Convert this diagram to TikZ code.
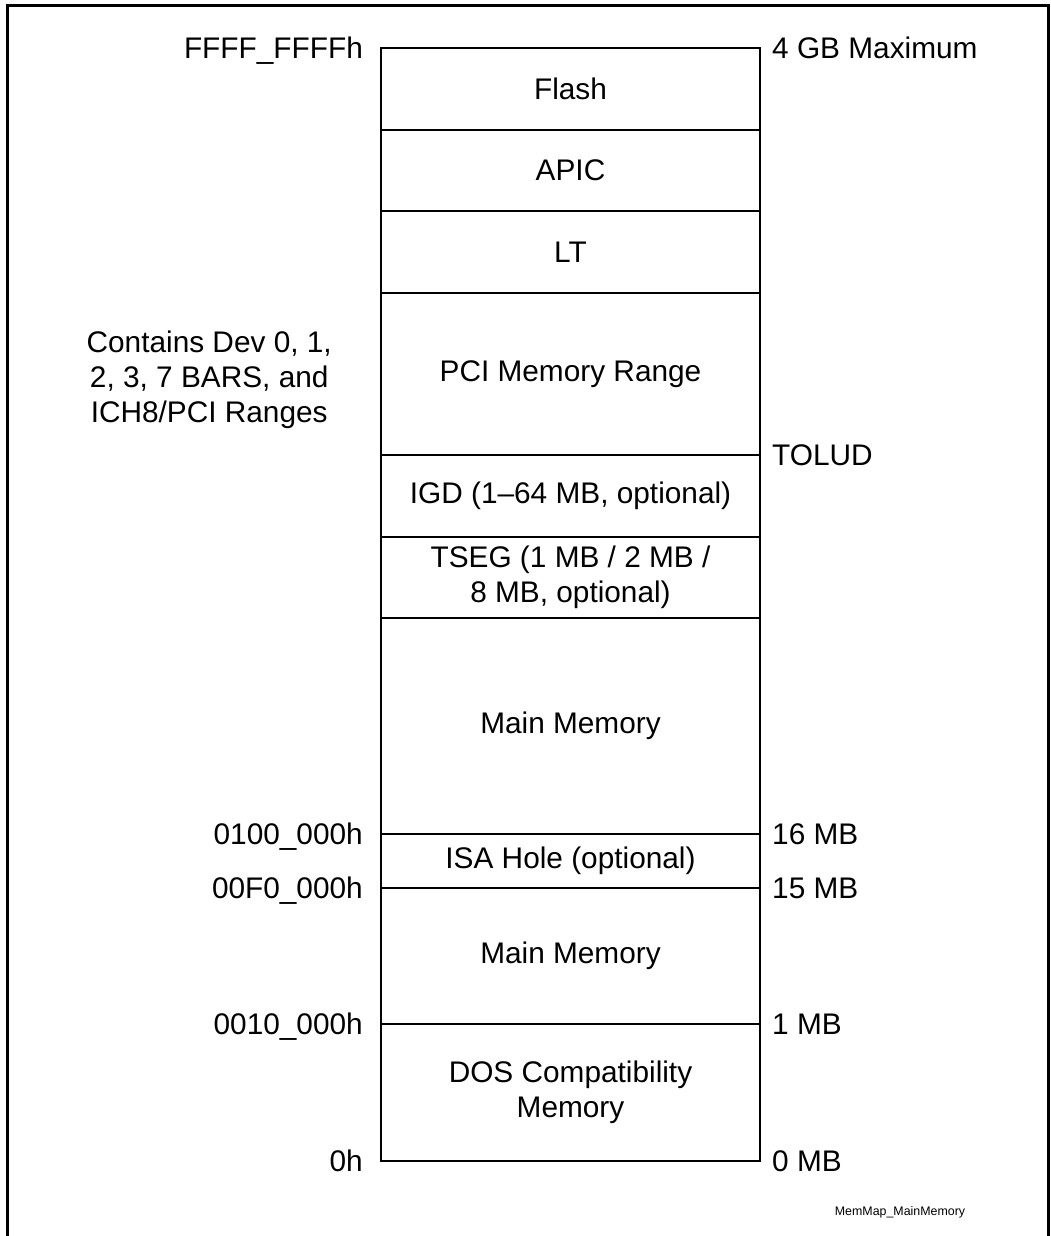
\documentclass[tikz,border=0pt]{standalone}
\usepackage{fontspec}
\setmainfont{Liberation Sans}
\usetikzlibrary{positioning}

\tikzset{
  region/.style={draw, line width=2pt, minimum width=379pt, outer sep=0pt, inner sep=0pt, align=center},
  addr/.style={inner sep=0pt, text height=21.4pt, text depth=0pt},
}

\begin{document}
\begin{tikzpicture}[x=1pt, y=-1pt, font=\fontsize{29.8}{35}\selectfont]
    \useasboundingbox (0,0) rectangle (1050,1236);
    % Frame
    \draw[line width=3pt] (7,1236) -- (7,6) -- (1048.5,6) -- (1048.5,1236);

    % Memory map, top to bottom
    \node[region, minimum height=82pt, anchor=north west] (flash) at (381,48) {Flash};
    \node[region, minimum height=81pt, below=0pt of flash] (apic) {APIC};
    \node[region, minimum height=82pt, below=0pt of apic] (lt) {LT};
    \node[region, minimum height=162pt, below=0pt of lt] (pci) {PCI Memory Range};
    \node[region, minimum height=82pt, below=0pt of pci] (igd) {IGD (1--64 MB, optional)};
    \node[region, minimum height=81pt, below=0pt of igd] (tseg) {TSEG (1 MB / 2 MB /\\8 MB, optional)};
    \node[region, minimum height=216pt, below=0pt of tseg] (mainhi) {Main Memory};
    \node[region, minimum height=54pt, below=0pt of mainhi] (isa) {ISA Hole (optional)};
    \node[region, minimum height=136pt, below=0pt of isa] (mainlo) {Main Memory};
    \node[region, minimum height=137pt, below=0pt of mainlo] (dos) {DOS Compatibility\\Memory};

    % Addresses on the left
    \node[addr, left=18pt of flash.north west] (afff) {FFFF\_FFFFh};
    \node[addr, left=18pt of isa.north west] (a100) {0100\_000h};
    \node[addr, left=18pt of mainlo.north west] (a0f0) {00F0\_000h};
    \node[addr, left=18pt of dos.north west] (a010) {0010\_000h};
    \node[addr, left=18pt of dos.south west] (a000) {0h};

    % Sizes on the right
    \node[addr, right=12pt of flash.north east] (s4g) {4 GB Maximum};
    \node[addr, right=12pt of igd.north east] (tolud) {TOLUD};
    \node[addr, right=12pt of isa.north east] (s16) {16 MB};
    \node[addr, right=12pt of mainlo.north east] (s15) {15 MB};
    \node[addr, right=12pt of dos.north east] (s1) {1 MB};
    \node[addr, right=12pt of dos.south east] (s0) {0 MB};

    % Note beside the PCI range
    \node[align=center, inner sep=0pt, left=49pt of pci, yshift=-6pt] (pcinote) {Contains Dev 0, 1,\\2, 3, 7 BARS, and\\ICH8/PCI Ranges};

    \node[font=\fontsize{12.4}{14}\selectfont] (figname) at (900,1212) {MemMap\_MainMemory};
\end{tikzpicture}
\end{document}
